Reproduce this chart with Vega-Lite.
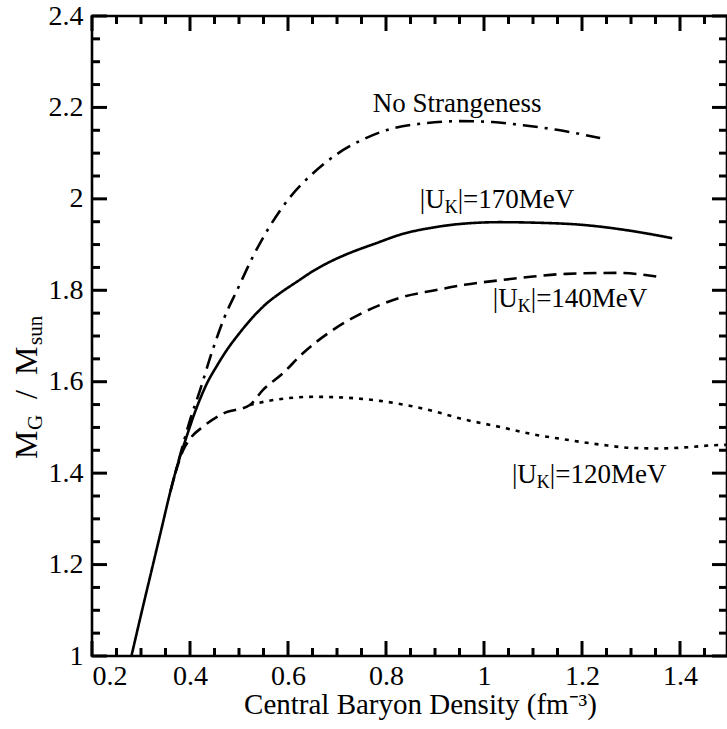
{
  "$schema": "https://vega.github.io/schema/vega-lite/v6.json",
  "width": 635,
  "height": 640,
  "autosize": {"type": "none"},
  "padding": {"left": 92, "top": 16, "right": 0, "bottom": 73},
  "background": "white",
  "config": {
    "view": {"stroke": "black", "strokeWidth": 2.6},
    "axis": {
      "grid": false,
      "domain": false,
      "labelFont": "Liberation Serif",
      "labelFontSize": 28,
      "labelColor": "black",
      "titleFont": "Liberation Serif",
      "titleFontSize": 29,
      "titleFontWeight": "normal",
      "titleColor": "black"
    }
  },
  "datasets": {
    "curves": [
      {"s": "170", "x": 0.2805, "y": 1.0},
      {"s": "170", "x": 0.30, "y": 1.09},
      {"s": "170", "x": 0.32, "y": 1.18},
      {"s": "170", "x": 0.34, "y": 1.27},
      {"s": "170", "x": 0.36, "y": 1.36},
      {"s": "170", "x": 0.375, "y": 1.42},
      {"s": "170", "x": 0.39, "y": 1.47},
      {"s": "170", "x": 0.41, "y": 1.533},
      {"s": "170", "x": 0.434, "y": 1.595},
      {"s": "170", "x": 0.455, "y": 1.635},
      {"s": "170", "x": 0.475, "y": 1.669},
      {"s": "170", "x": 0.50, "y": 1.705},
      {"s": "170", "x": 0.529, "y": 1.742},
      {"s": "170", "x": 0.555, "y": 1.77},
      {"s": "170", "x": 0.584, "y": 1.794},
      {"s": "170", "x": 0.62, "y": 1.82},
      {"s": "170", "x": 0.651, "y": 1.842},
      {"s": "170", "x": 0.685, "y": 1.862},
      {"s": "170", "x": 0.72, "y": 1.879},
      {"s": "170", "x": 0.78, "y": 1.903},
      {"s": "170", "x": 0.83, "y": 1.922},
      {"s": "170", "x": 0.9, "y": 1.938},
      {"s": "170", "x": 0.95, "y": 1.945},
      {"s": "170", "x": 1.033, "y": 1.949},
      {"s": "170", "x": 1.1, "y": 1.948},
      {"s": "170", "x": 1.202, "y": 1.943},
      {"s": "170", "x": 1.3, "y": 1.93},
      {"s": "170", "x": 1.384, "y": 1.914},
      {"s": "none", "x": 0.36, "y": 1.36},
      {"s": "none", "x": 0.375, "y": 1.42},
      {"s": "none", "x": 0.385, "y": 1.46},
      {"s": "none", "x": 0.40, "y": 1.516},
      {"s": "none", "x": 0.42, "y": 1.58},
      {"s": "none", "x": 0.447, "y": 1.672},
      {"s": "none", "x": 0.47, "y": 1.74},
      {"s": "none", "x": 0.496, "y": 1.80},
      {"s": "none", "x": 0.529, "y": 1.875},
      {"s": "none", "x": 0.56, "y": 1.935},
      {"s": "none", "x": 0.60, "y": 1.998},
      {"s": "none", "x": 0.65, "y": 2.055},
      {"s": "none", "x": 0.70, "y": 2.098},
      {"s": "none", "x": 0.753, "y": 2.13},
      {"s": "none", "x": 0.80, "y": 2.15},
      {"s": "none", "x": 0.884, "y": 2.166},
      {"s": "none", "x": 0.95, "y": 2.17},
      {"s": "none", "x": 1.018, "y": 2.168},
      {"s": "none", "x": 1.08, "y": 2.161},
      {"s": "none", "x": 1.149, "y": 2.151},
      {"s": "none", "x": 1.237, "y": 2.133},
      {"s": "140", "x": 0.37, "y": 1.40},
      {"s": "140", "x": 0.386, "y": 1.45},
      {"s": "140", "x": 0.40, "y": 1.475},
      {"s": "140", "x": 0.427, "y": 1.502},
      {"s": "140", "x": 0.467, "y": 1.53},
      {"s": "140", "x": 0.522, "y": 1.549},
      {"s": "140", "x": 0.549, "y": 1.582},
      {"s": "140", "x": 0.59, "y": 1.619},
      {"s": "140", "x": 0.631, "y": 1.663},
      {"s": "140", "x": 0.686, "y": 1.709},
      {"s": "140", "x": 0.747, "y": 1.748},
      {"s": "140", "x": 0.788, "y": 1.768},
      {"s": "140", "x": 0.829, "y": 1.784},
      {"s": "140", "x": 0.9, "y": 1.80},
      {"s": "140", "x": 0.96, "y": 1.812},
      {"s": "140", "x": 1.033, "y": 1.822},
      {"s": "140", "x": 1.1, "y": 1.83},
      {"s": "140", "x": 1.169, "y": 1.836},
      {"s": "140", "x": 1.271, "y": 1.838},
      {"s": "140", "x": 1.359, "y": 1.829},
      {"s": "120", "x": 0.522, "y": 1.549},
      {"s": "120", "x": 0.56, "y": 1.558},
      {"s": "120", "x": 0.60, "y": 1.564},
      {"s": "120", "x": 0.651, "y": 1.567},
      {"s": "120", "x": 0.70, "y": 1.566},
      {"s": "120", "x": 0.788, "y": 1.558},
      {"s": "120", "x": 0.85, "y": 1.547},
      {"s": "120", "x": 0.9, "y": 1.535},
      {"s": "120", "x": 0.95, "y": 1.52},
      {"s": "120", "x": 1.033, "y": 1.501},
      {"s": "120", "x": 1.1, "y": 1.485},
      {"s": "120", "x": 1.169, "y": 1.473},
      {"s": "120", "x": 1.24, "y": 1.462},
      {"s": "120", "x": 1.304, "y": 1.455},
      {"s": "120", "x": 1.36, "y": 1.454},
      {"s": "120", "x": 1.42, "y": 1.457},
      {"s": "120", "x": 1.467, "y": 1.461},
      {"s": "120", "x": 1.496, "y": 1.462}
    ],
    "xt": [
      {"v": 0.2, "k": "major"}, {"v": 0.4, "k": "major"}, {"v": 0.6, "k": "major"}, {"v": 0.8, "k": "major"},
      {"v": 1.0, "k": "major"}, {"v": 1.2, "k": "major"}, {"v": 1.4, "k": "major"},
      {"v": 0.25, "k": "minor"}, {"v": 0.3, "k": "minor"}, {"v": 0.35, "k": "minor"},
      {"v": 0.45, "k": "minor"}, {"v": 0.5, "k": "minor"}, {"v": 0.55, "k": "minor"},
      {"v": 0.65, "k": "minor"}, {"v": 0.7, "k": "minor"}, {"v": 0.75, "k": "minor"},
      {"v": 0.85, "k": "minor"}, {"v": 0.9, "k": "minor"}, {"v": 0.95, "k": "minor"},
      {"v": 1.05, "k": "minor"}, {"v": 1.1, "k": "minor"}, {"v": 1.15, "k": "minor"},
      {"v": 1.25, "k": "minor"}, {"v": 1.3, "k": "minor"}, {"v": 1.35, "k": "minor"},
      {"v": 1.45, "k": "minor"}
    ],
    "yt": [
      {"v": 1.0, "k": "major"}, {"v": 1.2, "k": "major"}, {"v": 1.4, "k": "major"}, {"v": 1.6, "k": "major"},
      {"v": 1.8, "k": "major"}, {"v": 2.0, "k": "major"}, {"v": 2.2, "k": "major"}, {"v": 2.4, "k": "major"},
      {"v": 1.05, "k": "minor"}, {"v": 1.1, "k": "minor"}, {"v": 1.15, "k": "minor"},
      {"v": 1.25, "k": "minor"}, {"v": 1.3, "k": "minor"}, {"v": 1.35, "k": "minor"},
      {"v": 1.45, "k": "minor"}, {"v": 1.5, "k": "minor"}, {"v": 1.55, "k": "minor"},
      {"v": 1.65, "k": "minor"}, {"v": 1.7, "k": "minor"}, {"v": 1.75, "k": "minor"},
      {"v": 1.85, "k": "minor"}, {"v": 1.9, "k": "minor"}, {"v": 1.95, "k": "minor"},
      {"v": 2.05, "k": "minor"}, {"v": 2.1, "k": "minor"}, {"v": 2.15, "k": "minor"},
      {"v": 2.25, "k": "minor"}, {"v": 2.3, "k": "minor"}, {"v": 2.35, "k": "minor"}
    ],
    "tags": [
      {"x": 0.869, "y": 1.98, "a": "|U", "b": "K", "c": "|=170MeV"},
      {"x": 1.018, "y": 1.763, "a": "|U", "b": "K", "c": "|=140MeV"},
      {"x": 1.057, "y": 1.378, "a": "|U", "b": "K", "c": "|=120MeV"}
    ],
    "ns": [{"x": 0.773, "y": 2.19, "t": "No Strangeness"}],
    "ytitle": [{"x": 0.0878, "y": 1.431, "a": "M", "b": "G", "c": "/", "d": "M", "e": "sun"}]
  },
  "layer": [
    {
      "data": {"name": "curves"},
      "mark": {"type": "line", "color": "black", "strokeWidth": 2.6, "interpolate": "monotone"},
      "encoding": {
        "x": {
          "field": "x", "type": "quantitative",
          "scale": {"domain": [0.2, 1.4959], "nice": false, "zero": false},
          "axis": {
            "orient": "bottom",
            "values": [0.2, 0.4, 0.6, 0.8, 1, 1.2, 1.4],
            "format": "~g",
            "ticks": false,
            "labelPadding": 6,
            "title": "Central Baryon Density (fm⁻³)",
            "titleX": 328,
            "titleY": 57,
            "titleBaseline": "alphabetic"
          }
        },
        "y": {
          "field": "y", "type": "quantitative",
          "scale": {"domain": [1, 2.4], "nice": false, "zero": false},
          "axis": {
            "orient": "left",
            "values": [1, 1.2, 1.4, 1.6, 1.8, 2, 2.2, 2.4],
            "format": "~g",
            "ticks": false,
            "labelPadding": 9,
            "title": null
          }
        },
        "strokeDash": {
          "field": "s", "type": "nominal",
          "scale": {"domain": ["none", "170", "140", "120"], "range": [[15, 7, 3, 7], [1, 0], [13, 7], [4, 6]]},
          "legend": null
        },
        "detail": {"field": "s"}
      }
    },
    {
      "data": {"name": "tags"},
      "mark": {"type": "text", "font": "Liberation Serif", "fontSize": 27, "align": "left", "baseline": "alphabetic", "color": "black"},
      "encoding": {
        "x": {"field": "x", "type": "quantitative", "scale": {"domain": [0.2, 1.4959], "nice": false, "zero": false}},
        "y": {"field": "y", "type": "quantitative", "scale": {"domain": [1, 2.4], "nice": false, "zero": false}},
        "text": {"field": "a"}
      }
    },
    {
      "data": {"name": "tags"},
      "mark": {"type": "text", "font": "Liberation Serif", "fontSize": 18, "align": "left", "baseline": "alphabetic", "color": "black", "dx": 24.9, "dy": 5},
      "encoding": {
        "x": {"field": "x", "type": "quantitative", "scale": {"domain": [0.2, 1.4959], "nice": false, "zero": false}},
        "y": {"field": "y", "type": "quantitative", "scale": {"domain": [1, 2.4], "nice": false, "zero": false}},
        "text": {"field": "b"}
      }
    },
    {
      "data": {"name": "tags"},
      "mark": {"type": "text", "font": "Liberation Serif", "fontSize": 27, "align": "left", "baseline": "alphabetic", "color": "black", "dx": 37.9},
      "encoding": {
        "x": {"field": "x", "type": "quantitative", "scale": {"domain": [0.2, 1.4959], "nice": false, "zero": false}},
        "y": {"field": "y", "type": "quantitative", "scale": {"domain": [1, 2.4], "nice": false, "zero": false}},
        "text": {"field": "c"}
      }
    },
    {
      "data": {"name": "ns"},
      "mark": {"type": "text", "font": "Liberation Serif", "fontSize": 27, "align": "left", "baseline": "alphabetic", "color": "black"},
      "encoding": {
        "x": {"field": "x", "type": "quantitative", "scale": {"domain": [0.2, 1.4959], "nice": false, "zero": false}},
        "y": {"field": "y", "type": "quantitative", "scale": {"domain": [1, 2.4], "nice": false, "zero": false}},
        "text": {"field": "t"}
      }
    },
    {
      "data": {"name": "ytitle"},
      "mark": {"type": "text", "font": "Liberation Serif", "fontSize": 32, "align": "left", "baseline": "alphabetic", "color": "black", "angle": 270},
      "encoding": {
        "x": {"field": "x", "type": "quantitative", "scale": {"domain": [0.2, 1.4959], "nice": false, "zero": false}},
        "y": {"field": "y", "type": "quantitative", "scale": {"domain": [1, 2.4], "nice": false, "zero": false}},
        "text": {"field": "a"}
      }
    },
    {
      "data": {"name": "ytitle"},
      "mark": {"type": "text", "font": "Liberation Serif", "fontSize": 21, "align": "left", "baseline": "alphabetic", "color": "black", "angle": 270, "dx": 29, "dy": 5},
      "encoding": {
        "x": {"field": "x", "type": "quantitative", "scale": {"domain": [0.2, 1.4959], "nice": false, "zero": false}},
        "y": {"field": "y", "type": "quantitative", "scale": {"domain": [1, 2.4], "nice": false, "zero": false}},
        "text": {"field": "b"}
      }
    },
    {
      "data": {"name": "ytitle"},
      "mark": {"type": "text", "font": "Liberation Serif", "fontSize": 32, "align": "left", "baseline": "alphabetic", "color": "black", "angle": 270, "dx": 60},
      "encoding": {
        "x": {"field": "x", "type": "quantitative", "scale": {"domain": [0.2, 1.4959], "nice": false, "zero": false}},
        "y": {"field": "y", "type": "quantitative", "scale": {"domain": [1, 2.4], "nice": false, "zero": false}},
        "text": {"field": "c"}
      }
    },
    {
      "data": {"name": "ytitle"},
      "mark": {"type": "text", "font": "Liberation Serif", "fontSize": 32, "align": "left", "baseline": "alphabetic", "color": "black", "angle": 270, "dx": 84},
      "encoding": {
        "x": {"field": "x", "type": "quantitative", "scale": {"domain": [0.2, 1.4959], "nice": false, "zero": false}},
        "y": {"field": "y", "type": "quantitative", "scale": {"domain": [1, 2.4], "nice": false, "zero": false}},
        "text": {"field": "d"}
      }
    },
    {
      "data": {"name": "ytitle"},
      "mark": {"type": "text", "font": "Liberation Serif", "fontSize": 21, "align": "left", "baseline": "alphabetic", "color": "black", "angle": 270, "dx": 114, "dy": 5},
      "encoding": {
        "x": {"field": "x", "type": "quantitative", "scale": {"domain": [0.2, 1.4959], "nice": false, "zero": false}},
        "y": {"field": "y", "type": "quantitative", "scale": {"domain": [1, 2.4], "nice": false, "zero": false}},
        "text": {"field": "e"}
      }
    },
    {
      "data": {"name": "xt"},
      "transform": [{"filter": "datum.k == 'major'"}],
      "mark": {"type": "rule", "color": "black", "strokeWidth": 3},
      "encoding": {
        "x": {"field": "v", "type": "quantitative", "scale": {"domain": [0.2, 1.4959], "nice": false, "zero": false}},
        "y": {"datum": 1, "type": "quantitative", "scale": {"domain": [1, 2.4], "nice": false, "zero": false}},
        "y2": {"datum": 1.0328}
      }
    },
    {
      "data": {"name": "xt"},
      "transform": [{"filter": "datum.k == 'minor'"}],
      "mark": {"type": "rule", "color": "black", "strokeWidth": 3},
      "encoding": {
        "x": {"field": "v", "type": "quantitative", "scale": {"domain": [0.2, 1.4959], "nice": false, "zero": false}},
        "y": {"datum": 1, "type": "quantitative", "scale": {"domain": [1, 2.4], "nice": false, "zero": false}},
        "y2": {"datum": 1.0175}
      }
    },
    {
      "data": {"name": "xt"},
      "transform": [{"filter": "datum.k == 'major'"}],
      "mark": {"type": "rule", "color": "black", "strokeWidth": 3},
      "encoding": {
        "x": {"field": "v", "type": "quantitative", "scale": {"domain": [0.2, 1.4959], "nice": false, "zero": false}},
        "y": {"datum": 2.4, "type": "quantitative", "scale": {"domain": [1, 2.4], "nice": false, "zero": false}},
        "y2": {"datum": 2.3672}
      }
    },
    {
      "data": {"name": "xt"},
      "transform": [{"filter": "datum.k == 'minor'"}],
      "mark": {"type": "rule", "color": "black", "strokeWidth": 3},
      "encoding": {
        "x": {"field": "v", "type": "quantitative", "scale": {"domain": [0.2, 1.4959], "nice": false, "zero": false}},
        "y": {"datum": 2.4, "type": "quantitative", "scale": {"domain": [1, 2.4], "nice": false, "zero": false}},
        "y2": {"datum": 2.3825}
      }
    },
    {
      "data": {"name": "yt"},
      "transform": [{"filter": "datum.k == 'major'"}],
      "mark": {"type": "rule", "color": "black", "strokeWidth": 3},
      "encoding": {
        "y": {"field": "v", "type": "quantitative", "scale": {"domain": [1, 2.4], "nice": false, "zero": false}},
        "x": {"datum": 0.2, "type": "quantitative", "scale": {"domain": [0.2, 1.4959], "nice": false, "zero": false}},
        "x2": {"datum": 0.2306}
      }
    },
    {
      "data": {"name": "yt"},
      "transform": [{"filter": "datum.k == 'minor'"}],
      "mark": {"type": "rule", "color": "black", "strokeWidth": 3},
      "encoding": {
        "y": {"field": "v", "type": "quantitative", "scale": {"domain": [1, 2.4], "nice": false, "zero": false}},
        "x": {"datum": 0.2, "type": "quantitative", "scale": {"domain": [0.2, 1.4959], "nice": false, "zero": false}},
        "x2": {"datum": 0.2163}
      }
    },
    {
      "data": {"name": "yt"},
      "transform": [{"filter": "datum.k == 'major'"}],
      "mark": {"type": "rule", "color": "black", "strokeWidth": 3},
      "encoding": {
        "y": {"field": "v", "type": "quantitative", "scale": {"domain": [1, 2.4], "nice": false, "zero": false}},
        "x": {"datum": 1.4959, "type": "quantitative", "scale": {"domain": [0.2, 1.4959], "nice": false, "zero": false}},
        "x2": {"datum": 1.4653}
      }
    },
    {
      "data": {"name": "yt"},
      "transform": [{"filter": "datum.k == 'minor'"}],
      "mark": {"type": "rule", "color": "black", "strokeWidth": 3},
      "encoding": {
        "y": {"field": "v", "type": "quantitative", "scale": {"domain": [1, 2.4], "nice": false, "zero": false}},
        "x": {"datum": 1.4959, "type": "quantitative", "scale": {"domain": [0.2, 1.4959], "nice": false, "zero": false}},
        "x2": {"datum": 1.4796}
      }
    }
  ]
}
